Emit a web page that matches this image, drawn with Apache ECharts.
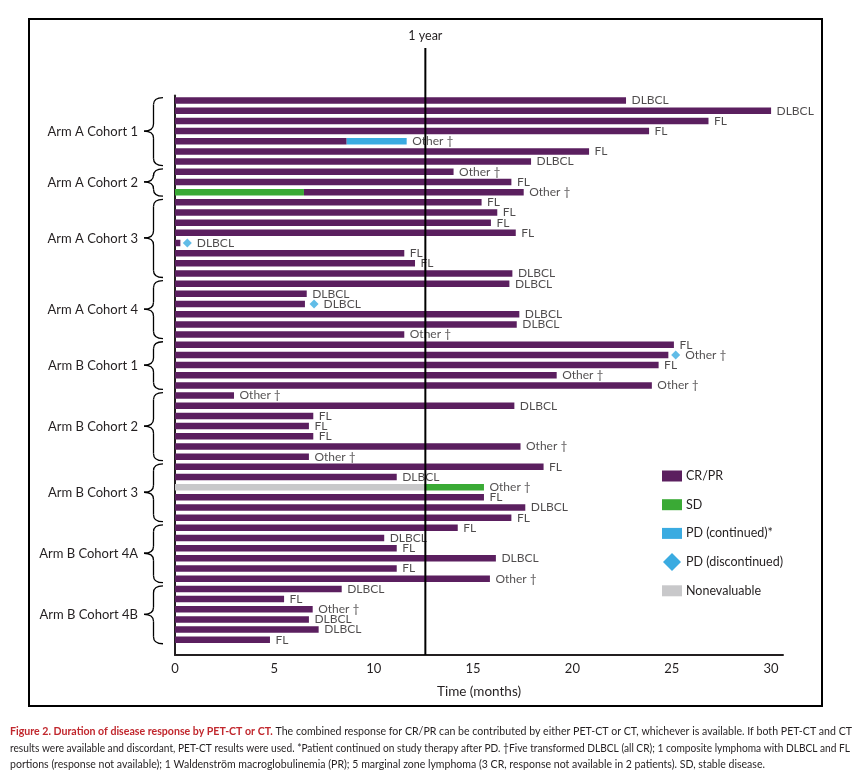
<!DOCTYPE html>
<html>
<head>
<meta charset="utf-8">
<script src="https://cdn.jsdelivr.net/npm/echarts@6/dist/echarts.min.js"></script>
<style>
  html, body { margin: 0; padding: 0; background: #fff; }
  #main { width: 864px; height: 775px; }
</style>
</head>
<body>
<div id="main"></div>
<script>
// ---------------- DATA ----------------
// One row per patient, top to bottom
const patients = Array.from({length: 54}, (_, i) => 'Pt ' + (i + 1));

const groupNames = ['Arm A Cohort 1', 'Arm A Cohort 2', 'Arm A Cohort 3', 'Arm A Cohort 4',
  'Arm B Cohort 1', 'Arm B Cohort 2', 'Arm B Cohort 3', 'Arm B Cohort 4A', 'Arm B Cohort 4B'];
const groupSizes = [7, 3, 8, 6, 5, 7, 6, 6, 6];

const histology = [
  'DLBCL', 'DLBCL', 'FL', 'FL', 'Other †', 'FL', 'DLBCL',
  'Other †', 'FL', 'Other †',
  'FL', 'FL', 'FL', 'FL', 'DLBCL', 'FL', 'FL', 'DLBCL',
  'DLBCL', 'DLBCL', 'DLBCL', 'DLBCL', 'DLBCL', 'Other †',
  'FL', 'Other †', 'FL', 'Other †', 'Other †',
  'Other †', 'DLBCL', 'FL', 'FL', 'FL', 'Other †', 'Other †',
  'FL', 'DLBCL', 'Other †', 'FL', 'DLBCL', 'FL',
  'FL', 'DLBCL', 'FL', 'DLBCL', 'FL', 'Other †',
  'DLBCL', 'FL', 'Other †', 'DLBCL', 'DLBCL', 'FL'
];

// Segment durations in months (stacked in this order: Nonevaluable, SD, CR/PR, PD continued)
const nonevaluable = [
  null, null, null, null, null, null, null,
  null, null, null,
  null, null, null, null, null, null, null, null,
  null, null, null, null, null, null,
  null, null, null, null, null,
  null, null, null, null, null, null, null,
  null, null, 12.55, null, null, null,
  null, null, null, null, null, null,
  null, null, null, null, null, null
];
const stableDisease = [
  null, null, null, null, null, null, null,
  null, null, 6.49,
  null, null, null, null, null, null, null, null,
  null, null, null, null, null, null,
  null, null, null, null, null,
  null, null, null, null, null, null, null,
  null, null, 3.0, null, null, null,
  null, null, null, null, null, null,
  null, null, null, null, null, null
];
const crpr = [
  22.7, 30.0, 26.85, 23.86, 8.64, 20.84, 17.92,
  14.02, 16.93, 11.06,
  15.43, 16.22, 15.9, 17.15, 0.27, 11.54, 12.08, 16.98,
  16.83, 6.63, 6.54, 17.33, 17.2, 11.54,
  25.11, 24.83, 24.34, 19.21, 24.0,
  2.97, 17.08, 6.96, 6.74, 6.96, 17.39, 6.74,
  18.55, 11.16, null, 15.55, 17.63, 16.93,
  14.23, 10.53, 11.16, 16.15, 11.16, 15.85,
  8.39, 5.49, 6.93, 6.74, 7.23, 4.78
];
const pdContinued = [
  null, null, null, null, 3.02, null, null,
  null, null, null,
  null, null, null, null, null, null, null, null,
  null, null, null, null, null, null,
  null, null, null, null, null,
  null, null, null, null, null, null, null,
  null, null, null, null, null, null,
  null, null, null, null, null, null,
  null, null, null, null, null, null
];
// PD (discontinued): [time in months, row index]
const pdDiscontinued = [[0.62, 14], [7.0, 20], [25.2, 25]];

const oneYear = 12.6;
const xTicks = [0, 5, 10, 15, 20, 25, 30];

// ---------------- COLOURS ----------------
const C_PURPLE = '#5b1f5f', C_GREEN = '#3aaa35', C_BLUE = '#3aabe1', C_GRAY = '#c8c8ca', C_TXT = '#231f20';
const FONT = 'Lato';

// label anchors: end of stacked bar for rows without a diamond
const diamondRows = pdDiscontinued.map(d => d[1]);
const labelPoints = [];
patients.forEach((p, i) => {
  if (diamondRows.indexOf(i) >= 0) return;
  const end = (nonevaluable[i] || 0) + (stableDisease[i] || 0) + (crpr[i] || 0) + (pdContinued[i] || 0);
  labelPoints.push([end, i]);
});

const barCommon = { type: 'bar', stack: 'resp', barWidth: 6.5, silent: true };

const option = {
  animation: false,
  backgroundColor: '#ffffff',
  grid: { left: 175, right: 81, top: 95.5, bottom: 120 },
  xAxis: {
    type: 'value', min: 0, max: 30.6, interval: 5,
    axisLine: { show: true, lineStyle: { color: C_TXT, width: 2 } },
    axisTick: { show: false },
    splitLine: { show: false },
    axisLabel: { color: C_TXT, fontSize: 13, fontFamily: FONT, margin: 7, showMaxLabel: false,
      formatter: v => (xTicks.indexOf(v) >= 0 ? String(v) : '') },
    name: 'Time (months)', nameLocation: 'middle', nameGap: 30,
    nameTextStyle: { color: C_TXT, fontSize: 13.5, fontFamily: FONT }
  },
  yAxis: {
    type: 'category', inverse: true, data: patients.concat(['']),
    axisLine: { show: true, lineStyle: { color: C_TXT, width: 2 } },
    axisTick: { show: false }, axisLabel: { show: false }, splitLine: { show: false }
  },
  series: [
    Object.assign({ name: 'Nonevaluable', data: nonevaluable, itemStyle: { color: C_GRAY } }, barCommon),
    Object.assign({ name: 'SD', data: stableDisease, itemStyle: { color: C_GREEN } }, barCommon),
    Object.assign({ name: 'CR/PR', data: crpr, itemStyle: { color: C_PURPLE } }, barCommon),
    Object.assign({ name: 'PD (continued)*', data: pdContinued, itemStyle: { color: C_BLUE } }, barCommon),
    {
      name: 'PD (discontinued)', type: 'scatter', symbol: 'diamond', symbolSize: 9, silent: true,
      data: pdDiscontinued, itemStyle: { color: C_BLUE }, z: 5,
      label: { show: true, position: 'right', distance: 5, color: C_TXT, fontSize: 12, fontFamily: FONT,
        formatter: p => histology[p.value[1]] }
    },
    {
      name: 'histology', type: 'scatter', symbol: 'rect', symbolSize: 1, silent: true,
      data: labelPoints, itemStyle: { color: 'rgba(0,0,0,0)' }, z: 5,
      label: { show: true, position: 'right', distance: 5, color: C_TXT, fontSize: 12, fontFamily: FONT,
        formatter: p => histology[p.value[1]] }
    }
  ]
};

const chart = echarts.init(document.getElementById('main'), null, { renderer: 'canvas' });
chart.setOption(option);

// ---------------- ANNOTATIONS ----------------
const g = [];
// outer frame
g.push({ type: 'rect', shape: { x: 29, y: 19, width: 793, height: 687 },
  style: { fill: 'none', stroke: '#000', lineWidth: 2 }, z: 10 });

// 1-year reference line
const xYear = chart.convertToPixel({ xAxisIndex: 0 }, oneYear);
const gridBottom = 775 - 120;
g.push({ type: 'line', shape: { x1: xYear, y1: 48, x2: xYear, y2: gridBottom },
  style: { stroke: '#000', lineWidth: 2 }, z: 10 });
g.push({ type: 'text', x: xYear, y: 36, z: 10,
  style: { text: '1 year', fill: C_TXT, fontSize: 12.5, fontFamily: FONT, align: 'center', verticalAlign: 'middle' } });

// group braces and labels
let start = 0;
const xEnd = 163, xSpine = 153.5, xTip = 144, r = 7;
groupNames.forEach((name, gi) => {
  const end = start + groupSizes[gi] - 1;
  const yFirst = chart.convertToPixel({ yAxisIndex: 0 }, start);
  const yLast = chart.convertToPixel({ yAxisIndex: 0 }, end);
  const y1 = yFirst - 3, y2 = yLast + 4, ym = (yFirst + yLast) / 2;
  const st = { stroke: '#000', lineWidth: 1.3, fill: 'none' };
  g.push({ type: 'bezierCurve', shape: { x1: xEnd, y1: y1, cpx1: xSpine, cpy1: y1, x2: xSpine, y2: y1 + r }, style: st });
  g.push({ type: 'line', shape: { x1: xSpine, y1: y1 + r, x2: xSpine, y2: ym - r }, style: st });
  g.push({ type: 'bezierCurve', shape: { x1: xSpine, y1: ym - r, cpx1: xSpine, cpy1: ym, x2: xTip, y2: ym }, style: st });
  g.push({ type: 'bezierCurve', shape: { x1: xTip, y1: ym, cpx1: xSpine, cpy1: ym, x2: xSpine, y2: ym + r }, style: st });
  g.push({ type: 'line', shape: { x1: xSpine, y1: ym + r, x2: xSpine, y2: y2 - r }, style: st });
  g.push({ type: 'bezierCurve', shape: { x1: xSpine, y1: y2 - r, cpx1: xSpine, cpy1: y2, x2: xEnd, y2: y2 }, style: st });
  g.push({ type: 'text', x: 138, y: ym + 1,
    style: { text: name, fill: C_TXT, fontSize: 13, fontFamily: FONT, align: 'right', verticalAlign: 'middle' } });
  start = end + 1;
});

// legend
const legendItems = [
  { name: 'CR/PR', color: C_PURPLE, shape: 'rect' },
  { name: 'SD', color: C_GREEN, shape: 'rect' },
  { name: 'PD (continued)*', color: C_BLUE, shape: 'rect' },
  { name: 'PD (discontinued)', color: C_BLUE, shape: 'diamond' },
  { name: 'Nonevaluable', color: C_GRAY, shape: 'rect' }
];
legendItems.forEach((it, i) => {
  const cy = 476 + i * 28.7;
  if (it.shape === 'rect') {
    g.push({ type: 'rect', shape: { x: 662, y: cy - 5.5, width: 20, height: 11 }, style: { fill: it.color } });
  } else {
    g.push({ type: 'polygon', shape: { points: [[672, cy - 9], [681, cy], [672, cy + 9], [663, cy]] }, style: { fill: it.color } });
  }
  g.push({ type: 'text', x: 686, y: cy,
    style: { text: it.name, fill: C_TXT, fontSize: 12.5, fontFamily: FONT, align: 'left', verticalAlign: 'middle' } });
});

// caption
const capBold = 'Figure 2. Duration of disease response by PET-CT or CT.';
const cap1 = ' The combined response for CR/PR can be contributed by either PET-CT or CT, whichever is available. If both PET-CT and CT';
const cap2 = 'results were available and discordant, PET-CT results were used. *Patient continued on study therapy after PD. †Five transformed DLBCL (all CR); 1 composite lymphoma with DLBCL and FL';
const cap3 = 'portions (response not available); 1 Waldenström macroglobulinemia (PR); 5 marginal zone lymphoma (3 CR, response not available in 2 patients). SD, stable disease.';
const capSize = 11;
const ctx = document.createElement('canvas').getContext('2d');
ctx.font = 'bold ' + capSize + 'px ' + FONT;
const wb = ctx.measureText(capBold).width;
ctx.font = capSize + 'px ' + FONT;
const w1 = ctx.measureText(cap1).width;
const w2 = ctx.measureText(cap2).width;
const w3 = ctx.measureText(cap3).width;
const sc1 = 842 / (wb + w1);
const sc2 = 840 / w2;
const sc3 = 755 / w3;
g.push({ type: 'text', x: 10, y: 731, scaleX: sc1,
  style: { text: '{b|' + capBold + '}' + cap1, fill: C_TXT, fontSize: capSize, fontFamily: FONT, verticalAlign: 'middle',
    rich: { b: { fontWeight: 'bold', fill: '#c1272d', fontSize: capSize, fontFamily: FONT } } } });
g.push({ type: 'text', x: 10, y: 748, scaleX: sc2,
  style: { text: cap2, fill: C_TXT, fontSize: capSize, fontFamily: FONT, verticalAlign: 'middle' } });
g.push({ type: 'text', x: 10, y: 764, scaleX: sc3,
  style: { text: cap3, fill: C_TXT, fontSize: capSize, fontFamily: FONT, verticalAlign: 'middle' } });

chart.setOption({ graphic: { elements: g } });
</script>
</body>
</html>
